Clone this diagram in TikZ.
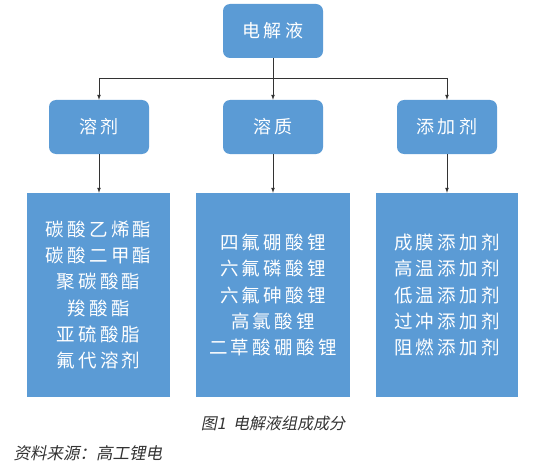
\documentclass[tikz,border=0pt]{standalone}
\usepackage{fontspec}
\usepackage{xcolor}
\usepackage{tikz}
\newfontfamily\cjk[LetterSpace=18]{Noto Sans CJK SC}
\newfontfamily\cjkit[FakeSlant=0.2]{Noto Sans CJK SC}
\definecolor{boxblue}{RGB}{91,155,213}
\tikzset{
	headbox/.style={fill=boxblue, rounded corners=7pt, minimum width=100pt, minimum height=54pt,
		text=white, font=\cjk\fontsize{18}{20}\selectfont, inner sep=0pt},
	listbox/.style={fill=boxblue, minimum height=204pt, text=white, align=center,
		font=\cjk\fontsize{18.5}{26.2}\selectfont, inner sep=0pt},
	link/.style={draw=black!80, line width=0.7pt}
}

\begin{document}
\begin{tikzpicture}[x=1pt,y=-1pt]
		\useasboundingbox (0,0) rectangle (540,468);
		% top level
		\node[headbox] (elec) at (273,31) {电解液};
		% second level
		\node[headbox] (solvent) at (99,127) {溶剂};
		\node[headbox] (solute) at (273,127) {溶质};
		\node[headbox] (additive) at (447,127) {添加剂};
		% lists
		\node[listbox, minimum width=143pt] (solventlist) at (98.5,295)
			{碳酸乙烯酯\\碳酸二甲酯\\聚碳酸酯\\羧酸酯\\亚硫酸脂\\氟代溶剂};
		\node[listbox, minimum width=154pt] (solutelist) at (273,295)
			{四氟硼酸锂\\六氟磷酸锂\\六氟砷酸锂\\高氯酸锂\\二草酸硼酸锂};
		\node[listbox, minimum width=142pt] (additivelist) at (447,295)
			{成膜添加剂\\高温添加剂\\低温添加剂\\过冲添加剂\\阻燃添加剂};
		% connectors
		\coordinate (hub) at (273,78);
		\coordinate (hubL) at (99,78);
		\coordinate (hubR) at (447,78);
		\draw[link] (elec.south) -- (hub);
		\draw[link] (hubL) -- (hubR);
		\draw[link,-latex] (hubL) -- (solvent.north);
		\draw[link,-latex] (hub) -- (solute.north);
		\draw[link,-latex] (hubR) -- (additive.north);
		\draw[link,-latex] (solvent.south) -- (solvent.south |- solventlist.north);
		\draw[link,-latex] (solute.south) -- (solutelist.north);
		\draw[link,-latex] (additive.south) -- (additivelist.north);
		% caption
		\node[text=black!80, font=\cjkit\fontsize{16}{18}\selectfont] (caption) at (273,423) {图1\ \ 电解液组成成分};
		\node[anchor=west, text=black!80, font=\cjkit\fontsize{16.5}{18}\selectfont] (source) at (10,453) {资料来源：高工锂电};
	\end{tikzpicture}
\end{document}
